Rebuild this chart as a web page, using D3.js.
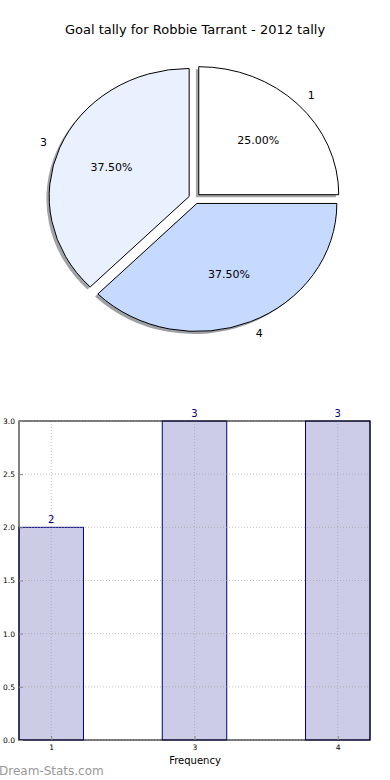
<!DOCTYPE html>
<html>
<head>
<meta charset="utf-8">
<script src="https://cdn.jsdelivr.net/npm/d3@7"></script>
<style>
  body { margin: 0; background: #fff; }
  svg { display: block; font-family: "DejaVu Sans", sans-serif; }
</style>
</head>
<body>
<svg id="chart" width="390" height="780"></svg>
<script>
// data
var title = "Goal tally for Robbie Tarrant - 2012 tally";
var goals = ["1", "3", "4"];          // goals in a game
var games = [2, 3, 3];                // how many games
var sliceColors = ["#ffffff", "#eaf1fe", "#c6d9fe"];
var yTicks = [0, 0.5, 1.0, 1.5, 2.0, 2.5, 3.0];

var svg = d3.select("#chart");

svg.append("text")
  .attr("x", 195)
  .attr("y", 34)
  .attr("text-anchor", "middle")
  .attr("font-size", 13)
  .text(title);

// ---- pie (ellipse, like the squashed matplotlib axes) ----
var cx = 194.6, cy = 198.5, rx = 140, ry = 128, explode = 0.042;

var pie = d3.pie().sort(null)
  .startAngle(Math.PI / 2)
  .endAngle(Math.PI / 2 - 2 * Math.PI);
var arcs = pie(games);
var arc = d3.arc().innerRadius(0).outerRadius(1);
var total = d3.sum(games);

function offset(d) {
  var m = (d.startAngle + d.endAngle) / 2;
  return [cx + explode * rx * Math.sin(m), cy - explode * ry * Math.cos(m)];
}

// shadows first
svg.append("g").selectAll("path")
  .data(arcs)
  .enter()
  .append("path")
  .attr("d", arc)
  .attr("transform", function(d) {
    var o = offset(d);
    return "translate(" + (o[0] - 2.8) + "," + (o[1] + 2.6) + ") scale(" + rx + "," + ry + ")";
  })
  .attr("fill", function(d, i) {
    var c = d3.rgb(sliceColors[i]);
    return d3.rgb(c.r * 0.3, c.g * 0.3, c.b * 0.3);
  })
  .attr("opacity", 0.5);

svg.append("g").selectAll("path")
  .data(arcs)
  .enter()
  .append("path")
  .attr("d", arc)
  .attr("transform", function(d) {
    var o = offset(d);
    return "translate(" + o[0] + "," + o[1] + ") scale(" + rx + "," + ry + ")";
  })
  .attr("fill", function(d, i) { return sliceColors[i]; })
  .attr("stroke", "#000")
  .attr("stroke-width", 1)
  .attr("vector-effect", "non-scaling-stroke");

// outer labels
svg.append("g").selectAll("text")
  .data(arcs)
  .enter()
  .append("text")
  .attr("x", function(d) {
    var m = (d.startAngle + d.endAngle) / 2;
    return offset(d)[0] + 1.1 * rx * Math.sin(m);
  })
  .attr("y", function(d) {
    var m = (d.startAngle + d.endAngle) / 2;
    return offset(d)[1] - 1.1 * ry * Math.cos(m);
  })
  .attr("dy", "0.35em")
  .attr("text-anchor", function(d) {
    var m = (d.startAngle + d.endAngle) / 2;
    return Math.sin(m) > 0 ? "start" : "end";
  })
  .attr("font-size", 11)
  .text(function(d, i) { return goals[i]; });

// percentages
svg.append("g").selectAll("text")
  .data(arcs)
  .enter()
  .append("text")
  .attr("x", function(d) {
    var m = (d.startAngle + d.endAngle) / 2;
    return offset(d)[0] + 0.6 * rx * Math.sin(m);
  })
  .attr("y", function(d) {
    var m = (d.startAngle + d.endAngle) / 2;
    return offset(d)[1] - 0.6 * ry * Math.cos(m);
  })
  .attr("dy", "0.35em")
  .attr("text-anchor", "middle")
  .attr("font-size", 11)
  .text(function(d) { return (d.value / total * 100).toFixed(2) + "%"; });

// ---- bar chart ----
var plotLeft = 19, plotRight = 370, plotTop = 421, plotBottom = 740;
var barW = 0.45;

var x = d3.scaleLinear().domain([-barW / 2, goals.length - 1 + barW / 2]).range([plotLeft, plotRight]);
var y = d3.scaleLinear().domain([0, 3]).range([plotBottom, plotTop]);

var bars = svg.append("g");
bars.selectAll("rect")
  .data(games)
  .enter()
  .append("rect")
  .attr("x", function(d, i) { return x(i - barW / 2); })
  .attr("y", function(d) { return y(d); })
  .attr("width", function(d, i) { return x(i + barW / 2) - x(i - barW / 2); })
  .attr("height", function(d) { return y(0) - y(d); })
  .attr("fill", "#cccce6")
  .attr("stroke", "#000080")
  .attr("stroke-width", 1);

// grid
var grid = svg.append("g")
  .attr("stroke", "#999")
  .attr("stroke-opacity", 0.6)
  .attr("stroke-dasharray", "1,2");
grid.selectAll(".gy")
  .data(yTicks)
  .enter()
  .append("line")
  .attr("x1", plotLeft).attr("x2", plotRight)
  .attr("y1", function(d) { return y(d); })
  .attr("y2", function(d) { return y(d); });
grid.selectAll(".gx")
  .data(goals)
  .enter()
  .append("line")
  .attr("x1", function(d, i) { return x(i); })
  .attr("x2", function(d, i) { return x(i); })
  .attr("y1", plotTop).attr("y2", plotBottom);

// frame
svg.append("rect")
  .attr("x", plotLeft).attr("y", plotTop)
  .attr("width", plotRight - plotLeft).attr("height", plotBottom - plotTop)
  .attr("fill", "none")
  .attr("stroke", "#000")
  .attr("stroke-width", 1);

// axes
var yAxis = d3.axisLeft(y).tickValues(yTicks).tickFormat(d3.format(".1f")).tickSize(-4).tickPadding(4);
svg.append("g")
  .attr("transform", "translate(" + plotLeft + ",0)")
  .call(yAxis)
  .call(function(g) {
    g.select(".domain").remove();
    g.selectAll("line").attr("stroke", "#888");
    g.selectAll("text").attr("font-size", 7.5).attr("font-family", "DejaVu Sans");
  });

var xAxis = d3.axisBottom(x).tickValues(d3.range(goals.length))
  .tickFormat(function(d) { return goals[d]; }).tickSize(-4).tickPadding(5);
svg.append("g")
  .attr("transform", "translate(0," + plotBottom + ")")
  .call(xAxis)
  .call(function(g) {
    g.select(".domain").remove();
    g.selectAll("line").attr("stroke", "#888");
    g.selectAll("text").attr("font-size", 7.5).attr("font-family", "DejaVu Sans");
  });

// bar value labels
svg.append("g").selectAll("text")
  .data(games)
  .enter()
  .append("text")
  .attr("x", function(d, i) { return x(i); })
  .attr("y", function(d) { return y(d) - 4; })
  .attr("text-anchor", "middle")
  .attr("font-size", 10)
  .attr("fill", "#000080")
  .text(function(d) { return d; });

svg.append("text")
  .attr("x", 195)
  .attr("y", 764)
  .attr("text-anchor", "middle")
  .attr("font-size", 10)
  .text("Frequency");

svg.append("text")
  .attr("x", -1)
  .attr("y", 775)
  .attr("font-size", 12)
  .attr("fill", "#999")
  .text("Dream-Stats.com");
</script>
</body>
</html>
